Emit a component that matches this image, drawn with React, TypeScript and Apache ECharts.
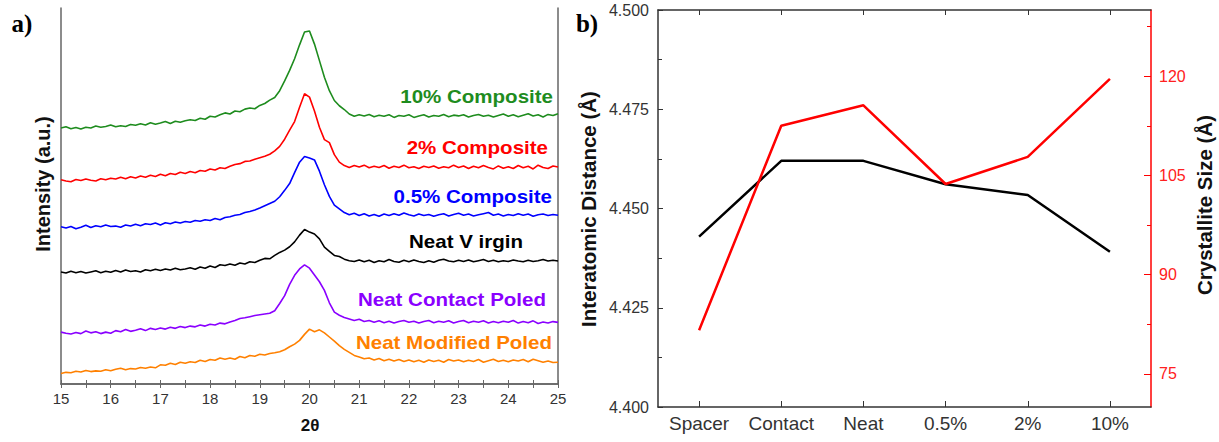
import React, { useEffect, useRef } from "react";
import * as echarts from "echarts";

// ---------- panel a) XRD patterns (intensity, a.u., traces offset as plotted) ----------
const THETA_START = 15;
const THETA_STEP = 0.1;

const composite10 = [
  68.1, 68.4, 67.9, 68.2, 67.8, 68.3, 68.1, 68.6, 68.3, 68.5,
  68.9, 68.4, 68.7, 68.5, 69.0, 68.8, 69.2, 68.9, 69.5, 69.1,
  69.4, 69.8, 69.3, 69.9, 69.6, 70.0, 70.3, 70.1, 70.7, 70.4,
  71.2, 71.0, 71.6, 72.1, 71.8, 72.6, 72.4, 73.1, 73.4, 73.2,
  74.1, 74.6, 75.5, 76.2, 78.0, 80.6, 83.4, 86.5, 90.2, 93.6,
  93.9, 90.4, 86.0, 81.6, 78.0, 75.4, 74.0, 73.0, 71.8, 71.2,
  71.6, 71.3, 71.7, 71.1, 71.5, 71.2, 71.6, 70.9, 71.4, 71.2,
  71.6, 70.9, 71.3, 71.6, 71.0, 71.4, 71.2, 71.7, 71.1, 71.5,
  71.3, 71.6, 71.0, 71.4, 71.7, 71.2, 71.5, 71.0, 71.4, 71.8,
  71.2, 71.6, 71.1, 71.5, 71.9, 71.3, 71.6, 71.0, 71.7, 71.4,
  71.9,
];
const composite2 = [
  54.3, 54.0, 53.8, 54.4, 54.1, 54.5, 54.2, 54.0, 54.6, 54.3,
  54.7, 54.5, 55.0, 54.6, 55.1, 54.8, 55.3, 55.0, 55.5, 55.2,
  55.8, 55.4, 56.0, 55.7, 56.3, 56.0, 56.5, 56.2, 56.8, 56.6,
  57.2, 56.9, 57.5, 57.3, 57.9, 58.4, 58.6, 59.2, 59.3, 59.8,
  60.2, 60.6, 61.1, 62.0, 63.2, 65.1, 67.5, 69.8, 73.6, 77.2,
  76.3, 72.6, 68.3, 65.0, 64.2, 61.0, 59.0, 58.1, 57.6, 58.1,
  57.7, 58.2, 57.5, 57.9, 57.6, 58.1, 57.4, 57.9, 57.6, 58.2,
  57.5, 57.8, 57.3, 57.9, 57.6, 58.0, 57.4, 57.8, 57.5, 58.2,
  57.6, 58.0, 57.3, 57.9, 57.5, 58.1, 57.6, 57.2, 58.0, 57.4,
  57.8, 57.3, 58.1, 57.5, 57.9, 57.2, 58.2, 57.6, 57.3, 58.0,
  57.7,
];
const composite05 = [
  41.8, 41.5, 41.9, 41.3, 41.7, 42.2, 41.6, 42.1, 41.8, 42.3,
  41.9, 42.0, 41.7, 42.3, 42.0, 42.5, 42.1, 42.6, 42.4, 42.8,
  42.3, 42.9, 42.6, 43.1, 42.8, 43.2, 43.0, 43.5, 43.3, 43.7,
  43.5, 44.0, 43.7, 44.3, 44.5, 44.9, 45.1, 45.6, 45.9, 46.3,
  46.8, 47.4, 48.0, 48.6, 49.8, 51.5, 53.3, 56.2, 59.0, 60.5,
  60.1, 59.6, 56.6, 53.0, 49.9, 47.6, 46.6, 45.6, 45.0, 45.4,
  44.8, 45.3, 44.7, 45.1, 44.6, 45.2, 44.8, 45.3, 44.9, 45.5,
  45.0, 44.7, 45.2, 44.8, 45.1, 44.6, 45.0, 45.3, 44.7, 45.1,
  45.4, 44.9, 45.2, 44.7, 45.0, 45.3, 45.6, 44.9, 45.2, 44.7,
  45.1, 44.8, 45.3, 44.9, 45.2, 44.6, 45.0, 45.2, 44.8, 45.1,
  44.9,
];
const neatVirgin = [
  29.8, 29.5, 30.0, 29.6, 29.9, 29.5, 29.8, 30.1, 29.6, 30.0,
  29.7, 30.2, 29.8, 30.3, 29.9, 30.1, 29.8, 30.4, 30.1, 30.5,
  30.2, 30.6, 30.3, 30.8, 30.4, 30.6, 30.9, 30.5, 31.1, 30.8,
  31.4, 31.0, 31.7, 31.5, 31.9, 31.6, 32.2, 31.9, 32.5, 32.3,
  32.9, 33.4, 33.3, 34.2, 35.0, 35.6, 36.5, 37.8, 39.6, 41.1,
  40.4, 39.9, 38.6, 36.4, 35.3, 34.2, 33.9, 33.2, 32.8, 32.6,
  33.0, 32.5, 32.9, 32.3, 32.8, 32.5, 33.1, 32.6, 32.4, 32.9,
  32.5, 33.0, 32.6, 32.3, 32.8, 32.4, 32.9, 33.2, 32.7, 32.5,
  32.9, 32.6, 33.0, 32.5, 32.8, 33.1, 32.6, 32.9, 32.5, 32.8,
  32.6, 33.0, 32.7, 32.5, 32.9, 32.6, 32.8, 33.1, 32.7, 32.9,
  32.7,
];
const neatContactPoled = [
  13.8, 13.5, 13.3, 13.7, 13.4, 14.1, 13.6, 13.9, 13.4, 13.8,
  13.5, 14.2, 13.9, 14.5, 14.0, 14.3, 14.7, 14.2, 14.8, 14.5,
  14.9, 14.6, 15.1, 14.8, 15.3, 15.0, 15.4, 15.2, 15.7, 15.4,
  15.9, 15.7, 16.2, 16.0, 16.5, 16.9, 17.4, 17.6, 17.9, 18.2,
  18.4, 18.6, 18.8, 19.5, 21.4, 23.5, 26.5, 28.9, 30.6, 31.7,
  30.8, 29.0, 27.2, 24.9, 21.6, 19.1, 18.3, 17.7, 17.3, 16.9,
  17.2, 16.6, 16.9, 16.4, 16.8, 16.3, 16.7, 16.2, 16.6, 16.9,
  16.4, 16.7, 16.2, 16.6, 16.9, 16.3, 16.7, 16.4, 16.8, 16.2,
  16.6, 16.9, 16.3, 16.7, 16.4, 16.8, 16.2, 16.6, 16.3, 16.7,
  16.4, 16.9, 16.2, 16.6, 16.3, 16.8, 16.1, 16.5, 16.2, 16.6,
  16.4,
];
const neatModifiedPoled = [
  2.8, 3.1, 3.0, 3.4, 3.2, 3.6, 3.3, 3.5, 3.4, 3.8,
  3.5, 3.9, 4.2, 3.8, 4.1, 4.0, 4.4, 4.2, 4.5, 4.3,
  5.1, 5.0, 5.5, 5.2, 5.8, 5.5, 5.9, 5.7, 6.3, 6.0,
  6.5, 6.3, 6.9, 6.6, 6.9, 6.6, 7.3, 7.0, 7.6, 7.4,
  7.9, 7.7, 8.1, 8.3, 8.6, 9.1, 9.9, 10.6, 11.6, 13.2,
  14.6, 13.9, 14.4, 13.6, 12.5, 11.4, 10.2, 9.2, 8.4, 7.6,
  7.2, 6.7, 6.9, 6.4, 6.8, 6.2, 6.6, 6.1, 6.5, 6.0,
  6.4, 5.9, 6.3, 5.8, 6.4, 6.0, 6.3, 5.8, 6.5, 6.1,
  6.4, 5.9, 6.3, 6.0, 6.5, 5.8, 6.2, 6.6, 6.0, 6.3,
  5.9, 6.4, 6.1, 6.5, 5.9, 6.6, 6.2, 5.8, 6.1, 5.7,
  5.8,
];

const xrdNames = [
  "10% Composite",
  "2% Composite",
  "0.5% Composite",
  "Neat V irgin",
  "Neat Contact Poled",
  "Neat Modified Poled",
];
const xrdSeries = [composite10, composite2, composite05, neatVirgin, neatContactPoled, neatModifiedPoled];
const xrdColors = ["#1e8c1e", "#ff0000", "#0000ff", "#000000", "#8a00ff", "#ff8000"];
const xTicks = [15, 16, 17, 18, 19, 20, 21, 22, 23, 24, 25];

// ---------- panel b) interatomic distance and crystallite size ----------
const samples = ["Spacer", "Contact", "Neat", "0.5%", "2%", "10%"];
const interatomicDistance = [4.4429, 4.462, 4.462, 4.4561, 4.4534, 4.4391];
const crystalliteSize = [81.6, 112.5, 115.6, 103.7, 107.8, 119.6];
const sizeTickLabels = [75, 90, 105, 120];
const sizeMinorTicks = [82.5, 97.5, 112.5, 127.5];

const FONT = "'Liberation Sans', Arial, sans-serif";

// label anchor positions (px) for panel a annotations
const labelPos = [
  { x: 553, y: 97 },
  { x: 548, y: 148 },
  { x: 552, y: 197 },
  { x: 523, y: 242 },
  { x: 546, y: 300 },
  { x: 552, y: 343 },
];

export default function App() {
  const ref = useRef<HTMLDivElement>(null);

  useEffect(() => {
    if (!ref.current) return;
    const chart = echarts.init(ref.current, null, { renderer: "svg" });

    const toPairs = (vals: number[]) =>
      vals.map((v, i) => [+(THETA_START + i * THETA_STEP).toFixed(2), v]);

    const grayAxis = { lineStyle: { color: "#666", width: 1.5 } };

    const option: any = {
      animation: false,
      backgroundColor: "#fff",
      grid: [
        { left: 61, top: 8, width: 497, height: 376 },
        { left: 658, top: 10, width: 493, height: 397 },
      ],
      xAxis: [
        {
          gridIndex: 0,
          type: "value",
          min: 15,
          max: 25,
          interval: 1,
          position: "bottom",
          axisLine: { show: true, ...grayAxis },
          axisTick: { show: true, inside: true, length: 4, lineStyle: { color: "#666" } },
          minorTick: { show: true, splitNumber: 2, length: 4, lineStyle: { color: "#666" } },
          axisLabel: {
            color: "#333",
            fontSize: 15,
            fontFamily: FONT,
            margin: 7,
            formatter: (v: number) => (xTicks.includes(v) ? String(v) : ""),
          },
          splitLine: { show: false },
        },
        {
          gridIndex: 0,
          type: "value",
          min: 15,
          max: 25,
          interval: 1,
          position: "top",
          axisLine: { show: true, ...grayAxis },
          axisTick: { show: true, inside: true, length: 4, lineStyle: { color: "#666" } },
          minorTick: { show: true, splitNumber: 2, length: 4, lineStyle: { color: "#666" } },
          axisLabel: { show: false },
          splitLine: { show: false },
        },
        {
          gridIndex: 1,
          type: "category",
          data: samples,
          boundaryGap: true,
          position: "bottom",
          axisLine: { show: true, lineStyle: { color: "#333", width: 1.5 } },
          axisTick: { show: true, inside: true, alignWithLabel: true, interval: 0, length: 6, lineStyle: { color: "#333" } },
          axisLabel: { color: "#333", fontSize: 19, fontFamily: FONT, margin: 7, interval: 0, hideOverlap: false },
          splitLine: { show: false },
        },
        {
          gridIndex: 1,
          type: "category",
          data: samples,
          boundaryGap: true,
          position: "top",
          axisLine: { show: true, lineStyle: { color: "#333", width: 1.5 } },
          axisTick: { show: true, inside: true, alignWithLabel: true, interval: 0, length: 5, lineStyle: { color: "#333" } },
          axisLabel: { show: false, interval: 0 },
          splitLine: { show: false },
        },
      ],
      yAxis: [
        {
          gridIndex: 0,
          type: "value",
          min: 0,
          max: 100,
          position: "left",
          axisLine: { show: true, ...grayAxis },
          axisTick: { show: false },
          axisLabel: { show: false },
          splitLine: { show: false },
        },
        {
          gridIndex: 0,
          type: "value",
          min: 0,
          max: 100,
          position: "right",
          axisLine: { show: true, ...grayAxis },
          axisTick: { show: false },
          axisLabel: { show: false },
          splitLine: { show: false },
        },
        {
          gridIndex: 1,
          type: "value",
          min: 4.4,
          max: 4.5,
          interval: 0.025,
          position: "left",
          axisLine: { show: true, lineStyle: { color: "#333", width: 1.5 } },
          axisTick: { show: true, inside: true, length: 5, lineStyle: { color: "#333" } },
          minorTick: { show: true, splitNumber: 2, length: 4, lineStyle: { color: "#333" } },
          axisLabel: {
            color: "#333",
            fontSize: 16,
            fontFamily: FONT,
            margin: 9,
            formatter: (v: number) => v.toFixed(3),
          },
          splitLine: { show: false },
        },
        {
          gridIndex: 1,
          type: "value",
          min: 70,
          max: 130,
          position: "right",
          axisLine: { show: true, lineStyle: { color: "#ff0000", width: 1.5 } },
          axisTick: {
            show: true,
            inside: true,
            length: 7,
            customValues: sizeTickLabels,
            lineStyle: { color: "#ff0000" },
          },
          axisLabel: {
            color: "#ff2020",
            fontSize: 16,
            fontFamily: FONT,
            margin: 8,
            customValues: sizeTickLabels,
          },
          splitLine: { show: false },
        },
        {
          gridIndex: 1,
          type: "value",
          min: 70,
          max: 130,
          position: "right",
          axisLine: { show: false },
          axisTick: {
            show: true,
            inside: true,
            length: 4,
            customValues: sizeMinorTicks,
            lineStyle: { color: "#ff0000" },
          },
          axisLabel: { show: false },
          splitLine: { show: false },
        },
      ],
      series: [
        ...xrdSeries.map((vals, i) => ({
          name: xrdNames[i],
          type: "line",
          xAxisIndex: 0,
          yAxisIndex: 0,
          data: toPairs(vals),
          showSymbol: false,
          symbol: "none",
          lineStyle: { color: xrdColors[i], width: 1.6 },
          z: 3,
        })),
        {
          name: "Interatomic Distance",
          type: "line",
          xAxisIndex: 2,
          yAxisIndex: 2,
          data: interatomicDistance,
          showSymbol: false,
          symbol: "none",
          lineStyle: { color: "#000", width: 2.5 },
        },
        {
          name: "Crystallite Size",
          type: "line",
          xAxisIndex: 2,
          yAxisIndex: 3,
          data: crystalliteSize,
          showSymbol: false,
          symbol: "none",
          lineStyle: { color: "#ff0000", width: 2.5 },
        },
      ],
      graphic: [
        ...xrdNames.map((name, i) => ({
          type: "text",
          x: labelPos[i].x,
          y: labelPos[i].y,
          scaleX: 1.14,
          style: {
            text: name,
            fill: xrdColors[i],
            font: `bold 18px ${FONT}`,
            align: "right",
            verticalAlign: "middle",
          },
        })),
        {
          type: "text",
          x: 310,
          y: 425,
          style: { text: "2θ", fill: "#111", font: `bold 17px ${FONT}`, align: "center", verticalAlign: "middle" },
        },
        {
          type: "text",
          x: 43,
          y: 184,
          rotation: Math.PI / 2,
          style: { text: "Intensity (a.u.)", fill: "#111", font: `bold 20px ${FONT}`, align: "center", verticalAlign: "middle" },
        },
        {
          type: "text",
          x: 588,
          y: 209,
          rotation: Math.PI / 2,
          style: { text: "Interatomic Distance (Å)", fill: "#111", font: `bold 20.5px ${FONT}`, align: "center", verticalAlign: "middle" },
        },
        {
          type: "text",
          x: 1204,
          y: 205,
          rotation: Math.PI / 2,
          style: { text: "Crystallite Size (Å)", fill: "#111", font: `bold 20.5px ${FONT}`, align: "center", verticalAlign: "middle" },
        },
        {
          type: "text",
          x: 22,
          y: 23,
          style: { text: "a)", fill: "#000", font: `bold 25px 'Liberation Serif', 'Times New Roman', serif`, align: "center", verticalAlign: "middle" },
        },
        {
          type: "text",
          x: 587,
          y: 23,
          style: { text: "b)", fill: "#000", font: `bold 25px 'Liberation Serif', 'Times New Roman', serif`, align: "center", verticalAlign: "middle" },
        },
      ],
    };

    chart.setOption(option);
    return () => chart.dispose();
  }, []);

  return (
    <div
      ref={ref}
      style={{ position: "absolute", left: 0, top: 0, width: 1219, height: 442, background: "#fff" }}
    />
  );
}
